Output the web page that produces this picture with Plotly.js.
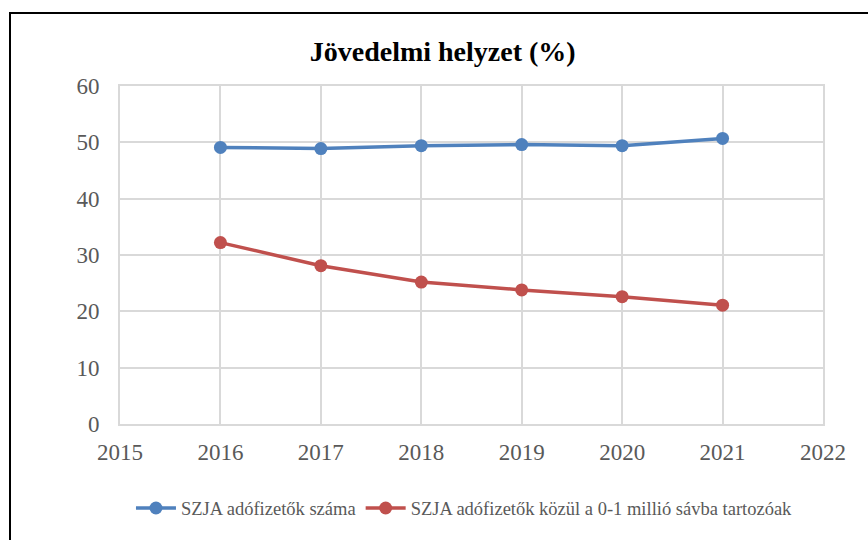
<!DOCTYPE html>
<html>
<head>
<meta charset="utf-8">
<script src="https://cdn.plot.ly/plotly-3.0.1.min.js"></script>
<style>
html,body{margin:0;padding:0;overflow:hidden;background:#fff;}
#wrap{position:relative;width:868px;height:540px;}
#chart{width:868px;height:540px;}
#frame{position:absolute;left:9px;top:12px;width:900px;height:600px;border:2px solid #000;pointer-events:none;}
</style>
</head>
<body>
<div id="wrap"><div id="chart"></div><div id="frame"></div></div>
<script>
const years = [2016, 2017, 2018, 2019, 2020, 2021];
const szjaFizetok = [49.1, 48.9, 49.4, 49.6, 49.4, 50.7];
const alsoSav = [32.2, 28.1, 25.2, 23.8, 22.6, 21.1];
const seriesNames = ["SZJA adófizetők száma", "SZJA adófizetők közül a 0-1 millió sávba tartozóak"];
const xTicks = [2015, 2016, 2017, 2018, 2019, 2020, 2021, 2022];
const yTicks = [0, 10, 20, 30, 40, 50, 60];

const font = "'Liberation Serif', 'Times New Roman', serif";
const traces = [
  {x: years, y: szjaFizetok, name: seriesNames[0], type: 'scatter', mode: 'lines+markers',
   line: {color: '#4F81BD', width: 3.5}, marker: {color: '#4F81BD', size: 13}},
  {x: years, y: alsoSav, name: seriesNames[1], type: 'scatter', mode: 'lines+markers',
   line: {color: '#C0504D', width: 3.5}, marker: {color: '#C0504D', size: 13}}
];
const layout = {
  width: 868, height: 540,
  margin: {l: 120, r: 45, t: 86, b: 113},
  paper_bgcolor: '#fff', plot_bgcolor: '#fff',
  font: {family: font, color: '#595959'},
  title: {text: '<b>Jövedelmi helyzet (%)</b>', font: {family: font, size: 28, color: '#000'},
          x: 0.51, xanchor: 'center', y: 0.905, yanchor: 'middle'},
  xaxis: {range: [2015, 2022], tickvals: xTicks, ticktext: xTicks.map(String),
          showgrid: true, gridcolor: '#D9D9D9', gridwidth: 2, zeroline: false,
          showline: true, mirror: true, linecolor: '#D9D9D9', linewidth: 2,
          tickfont: {family: font, size: 23, color: '#595959'}, ticks: '', ticklabelstandoff: 6},
  yaxis: {range: [0, 60], tickvals: yTicks, ticktext: yTicks.map(String),
          showgrid: true, gridcolor: '#D9D9D9', gridwidth: 2, zeroline: false,
          showline: true, mirror: true, linecolor: '#D9D9D9', linewidth: 2,
          tickfont: {family: font, size: 23, color: '#595959'}, ticks: '', ticklabelstandoff: 14},
  showlegend: true,
  legend: {orientation: 'h', x: 0.49, xanchor: 'center', y: -0.25, yanchor: 'middle',
           font: {family: font, size: 18.5, color: '#595959'}, itemwidth: 40, tracegroupgap: 0}
};
Plotly.newPlot('chart', traces, layout, {displayModeBar: false, staticPlot: true});
</script>
</body>
</html>
